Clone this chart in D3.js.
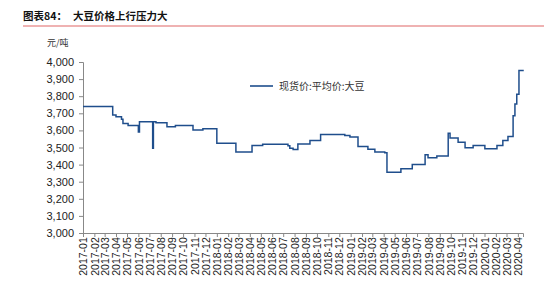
<!DOCTYPE html>
<html>
<head>
<meta charset="utf-8">
<script src="https://cdn.jsdelivr.net/npm/d3@7"></script>
<style>
    body { margin: 0; background: #fff; }
    svg { display: block; }
    .axis text { font-family: "Liberation Sans", Arial, sans-serif; fill: #222; }
</style>
</head>
<body>
<div id="chart"></div>
<script>
// spot price change points (date, yuan/ton)
let priceDates = [
    "2017-01-01", "2017-03-23", "2017-04-01", "2017-04-16", "2017-04-20", "2017-05-04",
    "2017-06-01", "2017-06-04", "2017-07-10", "2017-07-12", "2017-07-19", "2017-08-18",
    "2017-09-10", "2017-10-28", "2017-11-24", "2018-01-01", "2018-02-22", "2018-04-07",
    "2018-05-06", "2018-07-14", "2018-07-19", "2018-07-28", "2018-08-10", "2018-09-12",
    "2018-10-11", "2018-12-16", "2018-12-30", "2019-01-21", "2019-02-17", "2019-03-08",
    "2019-04-04", "2019-04-10", "2019-05-18", "2019-06-18", "2019-07-23", "2019-07-31",
    "2019-08-24", "2019-09-24", "2019-09-29", "2019-10-21", "2019-11-09", "2019-12-01",
    "2020-01-02", "2020-02-04", "2020-02-20", "2020-03-05", "2020-03-19", "2020-03-24",
    "2020-03-29", "2020-04-04", "2020-04-15"
];
let priceValues = [
    3740, 3690, 3680, 3665, 3640, 3628,
    3590, 3650, 3495, 3650, 3645, 3622,
    3628, 3603, 3609, 3525, 3473, 3512,
    3519, 3510, 3495, 3488, 3520, 3541,
    3576, 3570, 3562, 3506, 3490, 3473,
    3470, 3355, 3376, 3401, 3458, 3440,
    3450, 3583, 3556, 3531, 3498, 3512,
    3492, 3512, 3541, 3564, 3686, 3754,
    3812, 3950, 3955
];
let yTicks = [3000, 3100, 3200, 3300, 3400, 3500, 3600, 3700, 3800, 3900, 4000];
let seriesName = "现货价:平均价:大豆";
let chartTitle = "图表84：";
let chartSubtitle = "大豆价格上行压力大";
let unitLabel = "元/吨";

const WIDTH = 554, HEIGHT = 290;
const margin = {top: 62, right: 31, bottom: 57, left: 83};
const width = WIDTH - margin.left - margin.right;
const height = HEIGHT - margin.top - margin.bottom;

const parse = d3.timeParse("%Y-%m-%d");
const data = priceDates.map((d, i) => ({date: parse(d), value: priceValues[i]}));

const svg = d3.select("#chart").append("svg")
    .attr("width", WIDTH)
    .attr("height", HEIGHT);

// title + red rule
svg.append("text")
    .attr("x", 23).attr("y", 20)
    .attr("font-family", "Noto Sans CJK SC")
    .attr("font-weight", "bold")
    .attr("font-size", 10.5)
    .attr("fill", "#111")
    .text(chartTitle);
svg.append("text")
    .attr("x", 73).attr("y", 20)
    .attr("font-family", "Noto Sans CJK SC")
    .attr("font-weight", "bold")
    .attr("font-size", 10.5)
    .attr("fill", "#111")
    .text(chartSubtitle);
svg.append("line")
    .attr("x1", 23).attr("x2", 544)
    .attr("y1", 26).attr("y2", 26)
    .attr("stroke", "#e06666").attr("stroke-width", 1.2);

svg.append("text")
    .attr("x", 47).attr("y", 46)
    .attr("font-family", "Noto Sans CJK SC")
    .attr("font-size", 9)
    .attr("fill", "#333")
    .text(unitLabel);

const g = svg.append("g").attr("transform", `translate(${margin.left},${margin.top})`);

const x = d3.scaleTime()
    .domain([parse("2017-01-01"), parse("2020-04-15")])
    .range([0, width]);
const y = d3.scaleLinear()
    .domain([3000, 4000])
    .range([height, 0]);

const yAxis = d3.axisLeft(y).tickValues(yTicks).tickSize(4).tickPadding(5).tickFormat(d3.format(","));
const xAxis = d3.axisBottom(x).ticks(d3.timeMonth.every(1)).tickSize(4).tickPadding(3)
    .tickFormat(d3.timeFormat("%Y-%m"));

const ya = g.append("g").attr("class", "axis").call(yAxis);
ya.select(".domain").attr("stroke", "#888");
ya.selectAll(".tick line").attr("stroke", "#888");
ya.selectAll("text").attr("font-size", 11);

const xa = g.append("g").attr("class", "axis")
    .attr("transform", `translate(0,${height})`)
    .call(xAxis);
xa.select(".domain").attr("stroke", "#888");
xa.selectAll(".tick line").attr("stroke", "#888");
xa.selectAll("text")
    .attr("font-size", 10.5)
    .attr("transform", "rotate(-90)")
    .attr("text-anchor", "end")
    .attr("dx", "-0.4em")
    .attr("dy", "0.35em")
    .attr("x", 0).attr("y", 0);

const line = d3.line()
    .x(d => x(d.date))
    .y(d => y(d.value))
    .curve(d3.curveStepAfter);

g.append("path")
    .datum(data)
    .attr("fill", "none")
    .attr("stroke", "#1f4e8c")
    .attr("stroke-width", 1.5)
    .attr("d", line);

// legend
const lg = svg.append("g").attr("transform", "translate(250,86)");
lg.append("line").attr("x1", 0).attr("x2", 23)
    .attr("stroke", "#1f4e8c").attr("stroke-width", 1.6);
lg.append("text")
    .attr("x", 29).attr("y", 4)
    .attr("font-family", "Noto Sans CJK SC")
    .attr("font-size", 10)
    .attr("fill", "#333")
    .text(seriesName);
</script>
</body>
</html>
